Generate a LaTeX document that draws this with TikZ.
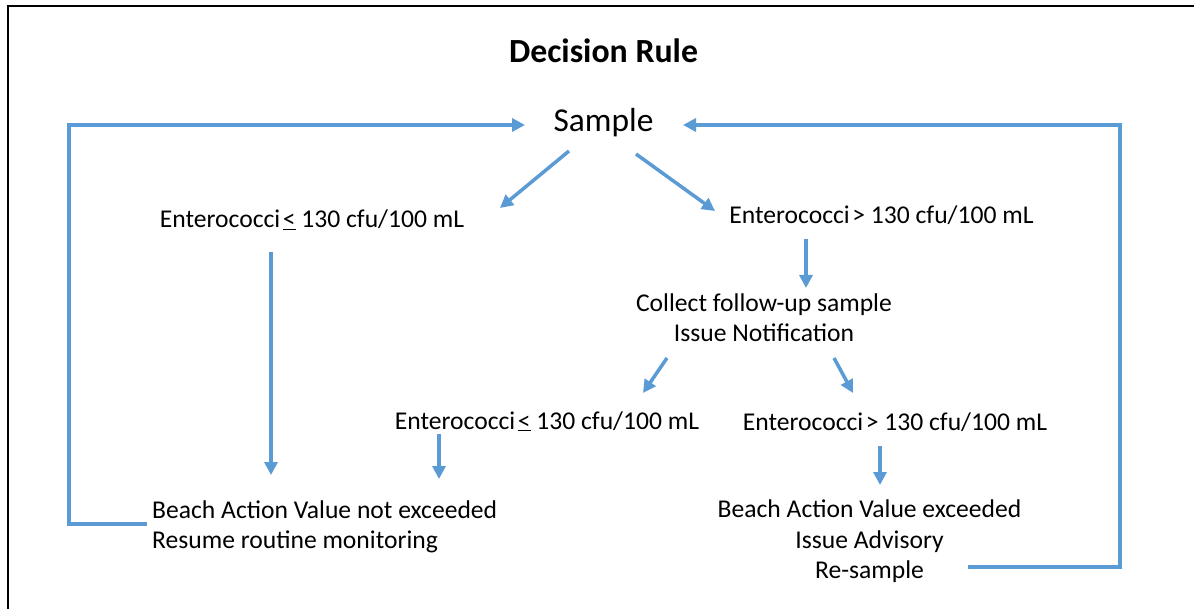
\documentclass[tikz,border=0pt]{standalone}
\usepackage{fontspec}
\setmainfont{Carlito}
\usetikzlibrary{arrows.meta}
\definecolor{flowblue}{HTML}{5B9BD5}
\tikzset{
  txt/.style={inner sep=0pt, anchor=base, font=\fontsize{25.6}{30}\selectfont},
  txtw/.style={inner sep=0pt, anchor=base west, font=\fontsize{25.6}{30}\selectfont},
  flow/.style={draw=flowblue, line width=3.5pt, -{Triangle[length=13pt,width=13pt]}},
  loopline/.style={draw=flowblue, line width=3.5pt, line join=miter, -{Triangle[length=13pt,width=13pt]}}
}
\begin{document}
\begin{tikzpicture}[x=1pt,y=-1pt]
\useasboundingbox (0,0) rectangle (1194,609);
\fill[white] (0,0) rectangle (1194,609);
\draw[line width=2.5pt] (8,609) -- (8,6) -- (1194,6);

\node[txt, font=\fontsize{33.8}{40}\selectfont\bfseries] (title) at (603.5,63) {Decision Rule};
\node[txt, font=\fontsize{33.4}{40}\selectfont] (sample) at (603.5,132) {Sample};
\node[txt] (low1) at (312,228) {Enterococci\hspace{0.1em}\underline{<} 130 cfu/100 mL};
\node[txt] (high1) at (881.5,224) {Enterococci\hspace{0.1em}> 130 cfu/100 mL};
\node[txt] (collA) at (764,312) {Collect follow-up sample};
\node[txt] (collB) at (764,342) {Issue Notification};
\node[txt] (low2) at (547,429) {Enterococci\hspace{0.1em}\underline{<} 130 cfu/100 mL};
\node[txt] (high2) at (895,431) {Enterococci\hspace{0.1em}> 130 cfu/100 mL};
\node[txtw] (okA) at (152,518) {Beach Action Value not exceeded};
\node[txtw] (okB) at (152,548) {Resume routine monitoring};
\node[txt] (badA) at (869.5,517) {Beach Action Value exceeded};
\node[txt] (badB) at (869.5,548) {Issue Advisory};
\node[txt] (badC) at (869.5,578) {Re-sample};

\coordinate (s1) at (569,151); \coordinate (t1) at (500,208);
\coordinate (s2) at (636,154); \coordinate (t2) at (715,211);
\coordinate (s3) at (271,252); \coordinate (t3) at (271,475);
\coordinate (s4) at (806,239); \coordinate (t4) at (806,288);
\coordinate (s5) at (667,358); \coordinate (t5) at (643,393);
\coordinate (s6) at (834,358); \coordinate (t6) at (853,393);
\coordinate (s7) at (439,434); \coordinate (t7) at (439,479);
\coordinate (s8) at (880,446); \coordinate (t8) at (880,485);
\coordinate (l1) at (147,524); \coordinate (l2) at (69,524);
\coordinate (l3) at (69,125); \coordinate (l4) at (525,125);
\coordinate (r1) at (968,567); \coordinate (r2) at (1120,567);
\coordinate (r3) at (1120,125); \coordinate (r4) at (683,125);

\draw[flow] (s1) -- (t1);
\draw[flow] (s2) -- (t2);
\draw[flow] (s3) -- (t3);
\draw[flow] (s4) -- (t4);
\draw[flow] (s5) -- (t5);
\draw[flow] (s6) -- (t6);
\draw[flow] (s7) -- (t7);
\draw[flow] (s8) -- (t8);
\draw[loopline] (l1) -- (l2) -- (l3) -- (l4);
\draw[loopline] (r1) -- (r2) -- (r3) -- (r4);
\end{tikzpicture}
\end{document}
